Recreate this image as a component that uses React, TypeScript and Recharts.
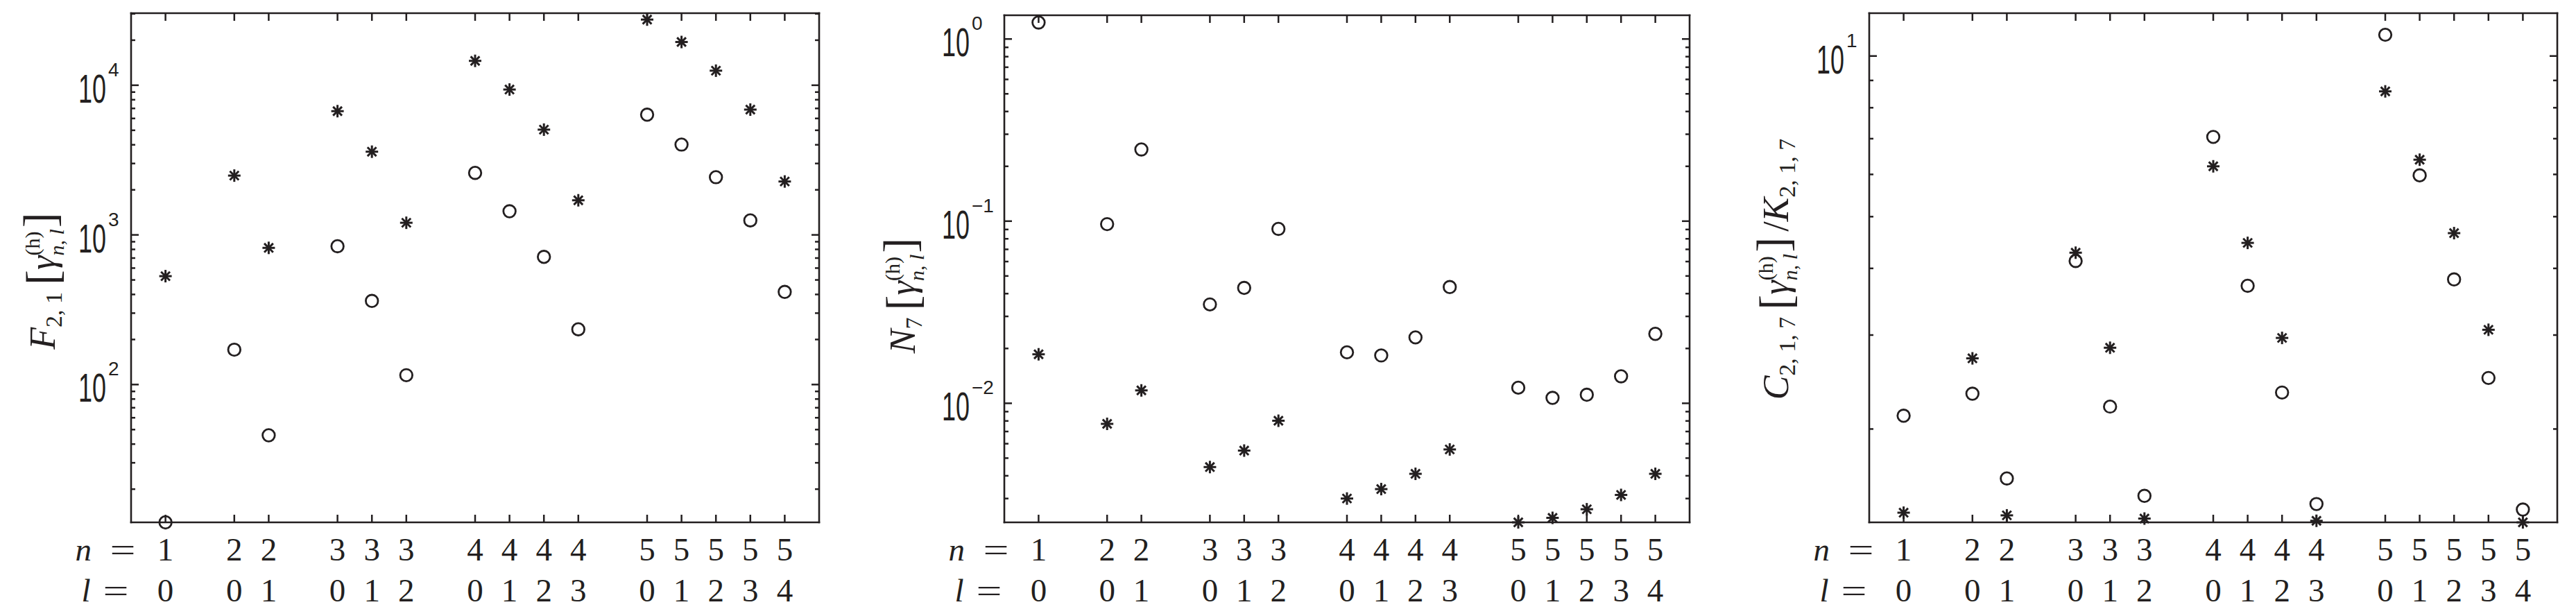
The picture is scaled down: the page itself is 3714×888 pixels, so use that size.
import React from 'react';
import { ScatterChart, Scatter, XAxis, YAxis } from 'recharts';

const INK = '#231f20';
const SANS = '"Liberation Sans", Arial, sans-serif';
const SERIF = '"Liberation Serif", "DejaVu Serif", serif';
const CHART_H = 888;
const BOTTOM_AXIS_H = 135;

// quantum numbers of each state (x categories)
const nVals = [1, 2, 2, 3, 3, 3, 4, 4, 4, 4, 5, 5, 5, 5, 5];
const lVals = [0, 0, 1, 0, 1, 2, 0, 1, 2, 3, 0, 1, 2, 3, 4];

// F_{2,1}
const f21Circles = [12, 171, 45.8, 840, 362, 115.5, 2597, 1438, 713, 234, 6358, 4013, 2430, 1250, 416];
const f21Stars = [530, 2490, 819, 6710, 3597, 1205, 14550, 9360, 5050, 1703, 27460, 19450, 12510, 6874, 2274];

// N_7
const n7Circles = [1.232, 0.0963, 0.2475, 0.0349, 0.043, 0.0907, 0.01905, 0.01831, 0.023, 0.04346, 0.01218, 0.01071, 0.01114, 0.01407, 0.02406];
const n7Stars = [0.01858, 0.00771, 0.01177, 0.004466, 0.0055, 0.00802, 0.003, 0.00338, 0.0041, 0.00558, 0.00222, 0.00235, 0.00262, 0.00314, 0.0041];

// C_{2,1,7} / K_{2,1,7}
const ckCircles = [2.118, 2.329, 1.616, 4.13, 2.203, 1.499, 7.054, 3.711, 2.341, 1.447, 10.96, 5.975, 3.814, 2.493, 1.413];
const ckStars = [1.394, 2.713, 1.378, 4.28, 2.84, 1.359, 6.213, 4.465, 2.963, 1.346, 8.585, 6.393, 4.657, 3.069, 1.337];

// gap between n groups on the x axis
const slot = (n: number, l: number) => ((n - 1) * (n + 2)) / 2 + l + 1;
const xTicks = nVals.map((n, i) => slot(n, lVals[i]));
const toPoints = (vals: number[]) => vals.map((y, i) => ({ x: xTicks[i], y }));

const logTicks = (lo: number, hi: number) => {
  const out: number[] = [];
  for (let d = Math.floor(Math.log10(lo)); d <= Math.ceil(Math.log10(hi)); d++) {
    for (let m = 1; m <= 9; m++) {
      const v = Number((m * Math.pow(10, d)).toPrecision(6));
      if (v >= lo && v <= hi) out.push(v);
    }
  }
  return out;
};

const frame = { stroke: INK, strokeWidth: 2.6, strokeLinecap: 'square' as const };

const Ring = (props: any) => (
  <circle cx={props.cx} cy={props.cy} r={8.8} fill="none" stroke={INK} strokeWidth={2.8} />
);

const Asterisk = (props: any) => {
  const { cx, cy } = props;
  const a = 9;
  const b = 6.4;
  return (
    <g stroke={INK} strokeWidth={3}>
      <line x1={cx - a} y1={cy} x2={cx + a} y2={cy} />
      <line x1={cx} y1={cy - a} x2={cx} y2={cy + a} />
      <line x1={cx - b} y1={cy - b} x2={cx + b} y2={cy + b} />
      <line x1={cx - b} y1={cy + b} x2={cx + b} y2={cy - b} />
    </g>
  );
};

const BottomTick = (props: any) => {
  const { x, y, payload } = props;
  const i = xTicks.indexOf(payload.value);
  const txt = { fontFamily: SERIF, fontSize: 47, fill: INK };
  return (
    <g>
      <line x1={x} x2={x} y1={y} y2={y - 11} stroke={INK} strokeWidth={2.5} />
      <text x={x} y={y + 55} textAnchor="middle" {...txt}>{nVals[i]}</text>
      <text x={x} y={y + 114} textAnchor="middle" {...txt}>{lVals[i]}</text>
      {i === 0 && (
        <g>
          <text x={x - 130} y={y + 55} fontStyle="italic" {...txt}>n</text>
          <text x={x - 80} y={y + 55} textLength={37} lengthAdjust="spacingAndGlyphs" {...txt}>=</text>
          <text x={x - 121} y={y + 114} fontStyle="italic" {...txt}>l</text>
          <text x={x - 90} y={y + 114} textLength={37} lengthAdjust="spacingAndGlyphs" {...txt}>=</text>
        </g>
      )}
    </g>
  );
};

const TopTick = (props: any) => (
  <line x1={props.x} x2={props.x} y1={props.y} y2={props.y + 11} stroke={INK} strokeWidth={2.5} />
);

const isMajor = (v: number) => Math.abs(Math.log10(v) - Math.round(Math.log10(v))) < 1e-6;

const makeLeftTick = (labelStart: number) => (props: any) => {
  const { x, y, payload } = props;
  const v = payload.value;
  const e = Math.round(Math.log10(v));
  const major = isMajor(v);
  return (
    <g>
      <line x1={x} x2={x + (major ? 11 : 6)} y1={y} y2={y} stroke={INK} strokeWidth={2.5} />
      {major && (
        <g>
          <text
            transform={`translate(${x - labelStart} ${y + 25}) scale(0.62 1)`}
            fontFamily={SANS}
            fontSize={58}
            fill={INK}
          >
            10
          </text>
          <text x={x - labelStart + 43} y={y - 13} fontFamily={SANS} fontSize={28} fill={INK}>
            {e < 0 ? `\u2212${-e}` : `${e}`}
          </text>
        </g>
      )}
    </g>
  );
};

const RightTick = (props: any) => {
  const major = isMajor(props.payload.value);
  return (
    <line x1={props.x} x2={props.x - (major ? 11 : 6)} y1={props.y} y2={props.y} stroke={INK} strokeWidth={2.5} />
  );
};

// the bracketed gamma^{(h)}_{n,l} part shared by all three titles
const gammaPart = (dyIn: number) => [
  <tspan key="lb" fontSize={66} fontStyle="normal" dx={10} dy={dyIn + 4}>[</tspan>,
  <tspan key="g" fontStyle="italic" dy={-4}>γ</tspan>,
  <tspan key="h" fontSize={30} fontStyle="normal" dy={-22}>(h)</tspan>,
  <tspan key="n" fontSize={30} fontStyle="italic" dx={-35} dy={35}>n</tspan>,
  <tspan key="c" fontSize={30} fontStyle="normal">, </tspan>,
  <tspan key="l" fontSize={30} fontStyle="italic">l</tspan>,
  <tspan key="rb" fontSize={66} fontStyle="normal" dx={2} dy={-13}>]</tspan>,
];

const titleF21 = [
  <tspan key="F" fontStyle="italic">F</tspan>,
  <tspan key="s" fontSize={34} dy={10}>2, 1</tspan>,
  ...gammaPart(-10),
];

const titleN7 = [
  <tspan key="N" fontStyle="italic">N</tspan>,
  <tspan key="s" fontSize={34} dy={10}>7</tspan>,
  ...gammaPart(-10),
];

const titleCK = [
  <tspan key="C" fontStyle="italic">C</tspan>,
  <tspan key="s" fontSize={34} dy={10}>2, 1, 7</tspan>,
  ...gammaPart(-10),
  <tspan key="sl" dx={8}>/</tspan>,
  <tspan key="K" fontStyle="italic">K</tspan>,
  <tspan key="s2" fontSize={34} dy={10}>2, 1, 7</tspan>,
];

interface PanelProps {
  left: number;
  width: number;
  plotLeft: number;
  plotRight: number;
  plotTop: number;
  domain: [number, number];
  labelStart: number;
  titleX: number;
  titleY: number;
  title: React.ReactNode;
  circles: number[];
  stars: number[];
}

const Panel = (p: PanelProps) => {
  const yTicks = logTicks(p.domain[0], p.domain[1]);
  const leftW = p.plotLeft - p.left;
  const rightW = p.width - (p.plotRight - p.left);
  const tx = p.titleX - p.left;
  const renderTitle = () => (
    <text
      x={tx}
      y={p.titleY}
      transform={`rotate(-90 ${tx} ${p.titleY})`}
      textAnchor="middle"
      fontFamily={SERIF}
      fontSize={52}
      fill={INK}
    >
      {p.title}
    </text>
  );
  return (
    <div style={{ position: 'absolute', left: p.left, top: 0 }}>
      <ScatterChart width={p.width} height={CHART_H} margin={{ top: 0, right: 0, bottom: 0, left: 0 }}>
        <XAxis
          xAxisId="bottom"
          orientation="bottom"
          type="number"
          dataKey="x"
          domain={[0, 20]}
          ticks={xTicks}
          interval={0}
          height={BOTTOM_AXIS_H}
          tickSize={0}
          tickMargin={0}
          tickLine={false}
          axisLine={frame}
          tick={BottomTick}
        />
        <XAxis
          xAxisId="top"
          orientation="top"
          type="number"
          dataKey="x"
          domain={[0, 20]}
          allowDataOverflow
          ticks={xTicks}
          interval={0}
          height={p.plotTop}
          tickSize={0}
          tickMargin={0}
          tickLine={false}
          axisLine={frame}
          tick={TopTick}
        />
        <YAxis
          yAxisId="left"
          orientation="left"
          type="number"
          dataKey="y"
          scale="log"
          domain={p.domain}
          ticks={yTicks}
          interval={0}
          width={leftW}
          tickSize={0}
          tickMargin={0}
          tickLine={false}
          axisLine={frame}
          tick={makeLeftTick(p.labelStart)}
          label={{ content: renderTitle }}
        />
        <YAxis
          yAxisId="right"
          orientation="right"
          type="number"
          dataKey="y"
          scale="log"
          domain={p.domain}
          allowDataOverflow
          ticks={yTicks}
          interval={0}
          width={rightW}
          tickSize={0}
          tickMargin={0}
          tickLine={false}
          axisLine={frame}
          tick={RightTick}
        />
        <Scatter xAxisId="bottom" yAxisId="left" data={toPoints(p.circles)} shape={Ring} isAnimationActive={false} />
        <Scatter xAxisId="bottom" yAxisId="left" data={toPoints(p.stars)} shape={Asterisk} isAnimationActive={false} />
      </ScatterChart>
    </div>
  );
};

export default function App() {
  return (
    <div style={{ position: 'absolute', left: 0, top: 0, width: 3714, height: CHART_H, background: '#fff' }}>
      <Panel
        left={0}
        width={1220}
        plotLeft={189}
        plotRight={1181}
        plotTop={19}
        domain={[12, 30300]}
        labelStart={76}
        titleX={79}
        titleY={405}
        title={titleF21}
        circles={f21Circles}
        stars={f21Stars}
      />
      <Panel
        left={1240}
        width={1230}
        plotLeft={1448}
        plotRight={2436}
        plotTop={22}
        domain={[0.00222, 1.35]}
        labelStart={90}
        titleX={1319}
        titleY={426}
        title={titleN7}
        circles={n7Circles}
        stars={n7Stars}
      />
      <Panel
        left={2480}
        width={1234}
        plotLeft={2695}
        plotRight={3687}
        plotTop={19}
        domain={[1.337, 12.03]}
        labelStart={76}
        titleX={2578}
        titleY={388}
        title={titleCK}
        circles={ckCircles}
        stars={ckStars}
      />
    </div>
  );
}
